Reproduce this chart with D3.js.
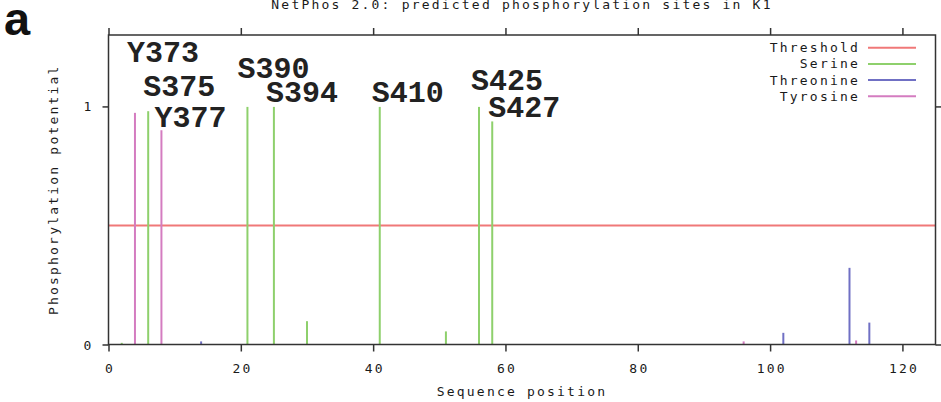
<!DOCTYPE html>
<html>
<head>
<meta charset="utf-8">
<script src="https://cdn.jsdelivr.net/npm/d3@7"></script>
<style>
  body { margin: 0; background: #fff; }
  svg { display: block; }
  .gp { font-family: "DejaVu Sans Mono", monospace; font-size: 13px; letter-spacing: 2.2px; fill: #1a1a1a; }
</style>
</head>
<body>
<div id="chart"></div>
<script>
// sequence position (1 = residue 370) and predicted potential
const serinePos = [2, 6, 21, 25, 30, 41, 51, 56, 58];
const serineVal = [0.007, 0.98, 0.998, 0.998, 0.098, 0.998, 0.055, 0.998, 0.937];
const threoninePos = [14, 102, 112, 115];
const threonineVal = [0.013, 0.049, 0.322, 0.092];
const tyrosinePos = [4, 8, 96, 113];
const tyrosineVal = [0.973, 0.900, 0.013, 0.017];
const threshold = 0.5;

const xTicks = [0, 20, 40, 60, 80, 100, 120];
const yTicks = [0, 1];

const siteLabels = ["Y373", "S375", "Y377", "S390", "S394", "S410", "S425", "S427"];
const sitePos = [4, 6, 8, 21, 25, 41, 56, 58];
const siteVal = [0.973, 0.98, 0.9, 0.998, 0.998, 0.998, 0.998, 0.937];

const legendNames = ["Threshold", "Serine", "Threonine", "Tyrosine"];

// layout
const width = 941, height = 402;
const margin = { left: 108.5, right: 5.5, top: 35, bottom: 57.5 };
const colors = { Threshold: "#f07878", Serine: "#8ed06c", Threonine: "#7070c4", Tyrosine: "#d47cc0" };
const labelOffset = {
    Y373: [-8, -51], S375: [-5, -15.5], Y377: [-7, -3.5], S390: [-10, -29],
    S394: [-8, -5], S410: [-8, -5], S425: [-8, -17], S427: [-4, -4.7]
};

const svg = d3.select("#chart").append("svg")
    .attr("width", width)
    .attr("height", height);

const x = d3.scaleLinear().domain([0, 125]).range([margin.left, width - margin.right]);
const y = d3.scaleLinear().domain([0, 1.3]).range([height - margin.bottom, margin.top]);

// panel letter
svg.append("text")
    .attr("x", 4).attr("y", 35)
    .style("font-family", "Liberation Sans, Arial, sans-serif")
    .style("font-weight", "bold")
    .style("font-size", "47px")
    .attr("fill", "#111")
    .text("a");

// title
svg.append("text")
    .attr("class", "gp")
    .attr("x", (x.range()[0] + x.range()[1]) / 2)
    .attr("y", 9)
    .attr("text-anchor", "middle")
    .text("NetPhos 2.0: predicted phosphorylation sites in K1");

// threshold line
svg.append("line")
    .attr("x1", x(0)).attr("x2", x(125))
    .attr("y1", y(threshold)).attr("y2", y(threshold))
    .attr("stroke", colors.Threshold).attr("stroke-width", 2);

// impulses
function impulses(pos, vals, color) {
    svg.append("g").selectAll("line")
        .data(pos.map((p, i) => [p, vals[i]]))
        .enter().append("line")
        .attr("x1", d => x(d[0])).attr("x2", d => x(d[0]))
        .attr("y1", y(0)).attr("y2", d => y(d[1]))
        .attr("stroke", color)
        .attr("stroke-width", 2);
}
impulses(serinePos, serineVal, colors.Serine);
impulses(threoninePos, threonineVal, colors.Threonine);
impulses(tyrosinePos, tyrosineVal, colors.Tyrosine);

// axes (ticks outward on all four sides)
function styleAxis(g) {
    g.select(".domain").remove();
    g.selectAll(".tick line").attr("stroke", "#333").attr("stroke-width", 1.5);
}
svg.append("g")
    .attr("transform", `translate(0,${y(0)})`)
    .call(d3.axisBottom(x).tickValues(xTicks).tickSize(7).tickSizeOuter(0).tickFormat(d3.format("d")))
    .call(styleAxis)
    .call(g => g.selectAll(".tick text").attr("class", "gp").attr("y", 28.5).attr("dy", 0)
        .attr("dx", 1.1).style("font-size", null));
svg.append("g")
    .attr("transform", `translate(0,${margin.top})`)
    .call(d3.axisTop(x).tickValues(xTicks).tickSize(7).tickSizeOuter(0).tickFormat(""))
    .call(styleAxis);
svg.append("g")
    .attr("transform", `translate(${x(0)},0)`)
    .call(d3.axisLeft(y).tickValues(yTicks).tickSize(6).tickSizeOuter(0).tickFormat(d3.format("d")))
    .call(styleAxis)
    .call(g => g.selectAll(".tick text").attr("class", "gp").attr("text-anchor", "middle")
        .attr("x", -20).attr("dy", "0.35em").style("font-size", null));
svg.append("g")
    .attr("transform", `translate(${x(125)},0)`)
    .call(d3.axisRight(y).tickValues(yTicks).tickSize(6).tickSizeOuter(0).tickFormat(""))
    .call(styleAxis);

// frame
svg.append("rect")
    .attr("x", x(0)).attr("y", y(1.3))
    .attr("width", x(125) - x(0)).attr("height", y(0) - y(1.3))
    .attr("fill", "none").attr("stroke", "#333").attr("stroke-width", 1.5);

// axis titles
svg.append("text")
    .attr("class", "gp")
    .attr("x", (x.range()[0] + x.range()[1]) / 2)
    .attr("y", 396)
    .attr("text-anchor", "middle")
    .text("Sequence position");
svg.append("text")
    .attr("class", "gp")
    .attr("transform", `translate(58,${(y.range()[0] + y.range()[1]) / 2}) rotate(-90)`)
    .attr("text-anchor", "middle")
    .text("Phosphorylation potential");

// legend
const legend = svg.append("g").selectAll("g")
    .data(legendNames)
    .enter().append("g")
    .attr("transform", (d, i) => `translate(0,${47.7 + i * 16.2})`);
legend.append("text")
    .attr("class", "gp")
    .attr("x", 860).attr("y", 4.5)
    .attr("text-anchor", "end")
    .text(d => d);
legend.append("line")
    .attr("x1", 868).attr("x2", 916)
    .attr("stroke", d => colors[d]).attr("stroke-width", 2);

// site annotations
svg.append("g").selectAll("text")
    .data(siteLabels.map((s, i) => ({ name: s, pos: sitePos[i], val: siteVal[i] })))
    .enter().append("text")
    .attr("x", d => x(d.pos) + labelOffset[d.name][0])
    .attr("y", d => y(d.val) + labelOffset[d.name][1])
    .style("font-family", "'Courier New', 'Liberation Mono', monospace")
    .style("font-weight", "bold")
    .style("font-size", "30px")
    .attr("fill", "#222")
    .text(d => d.name);
</script>
</body>
</html>
